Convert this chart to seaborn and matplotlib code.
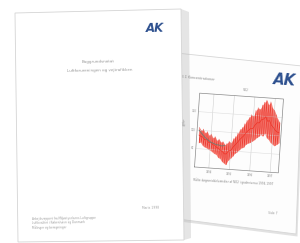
import matplotlib
matplotlib.use("Agg")
import matplotlib.pyplot as plt
import seaborn as sns
import pandas as pd
from matplotlib.patches import Polygon
from matplotlib.transforms import Affine2D

# ---------------- data ----------------
idx = list(range(40))
band_upper = [54, 50, 52, 47, 49, 44, 46, 41, 43, 38,
              40, 36, 37, 33, 35, 38, 36, 42, 45, 50,
              55, 58, 63, 68, 72, 76, 74, 82, 86, 84,
              90, 94, 97, 91, 95, 87, 84, 78, 72, 68]
band_lower = [33, 34, 30, 28, 27, 25, 24, 22, 20, 19,
              15, 14, 10, 8, 6, 12, 15, 18, 22, 24,
              27, 30, 31, 35, 37, 38, 40, 42, 45, 47,
              50, 48, 52, 46, 44, 40, 38, 36, 38, 40]
ref_idx = [0, 1, 2, 3, 4, 5, 6, 7, 8, 9, 10, 11, 12, 13]
ref_vals = [50, 47, 44, 41, 39, 37, 35, 34, 33, 32, 32, 31, 31, 32]
x_tick_pos = [6, 16, 26, 36]
x_tick_labels = ["1994", "1995", "1996", "1997"]
y_tick_pos = [25, 50, 75]
y_tick_labels = ["50", "100", "150"]
front_title = ["Baggrundsnotat", "Luftforureningen og vejtrafikken"]
front_date = "Marts 1998"
front_footer = ["Arbejdsrapport fra Miljøstyrelsens Luftgruppe",
                "Luftkvalitet i København og Danmark",
                "Målinger og beregninger"]
logo = "AK"
back_heading = "Figur 3.1 Koncentrationer"
back_caption = "Målte døgnmiddelværdier af NO2 i gadeniveau 1994-1997"
back_page_no = "Side 7"
chart_title = "NO2"

# ---------------- style ----------------
sns.set_theme(style="white")
plt.rcParams['font.family'] = ['DejaVu Sans']

W, H = 300, 243
fig = plt.figure(figsize=(3.0, 2.43), dpi=100)
fig.patch.set_facecolor('white')
bg = fig.add_axes([0, 0, 1, 1])
bg.set_xlim(0, W)
bg.set_ylim(H, 0)
bg.axis('off')

# back page
back = [(176, 53), (302, 66), (296, 234), (178, 219)]
bg.add_patch(Polygon([(x + 1.5, y + 2.5) for x, y in back], closed=True,
                     fc='#cfcfcf', ec='none', alpha=0.6, zorder=1))
bg.add_patch(Polygon(back, closed=True, fc='#fdfdfd', ec='#d6d6d6', lw=0.6, zorder=2))
# shadow of front page on back page
bg.add_patch(Polygon([(181, 9), (189, 12), (191, 238), (184, 240)], closed=True,
                     fc='#b5b5b5', ec='none', alpha=0.35, zorder=3))
# front page
front = [(15, 13), (181, 9), (184, 240), (18, 242)]
bg.add_patch(Polygon(front, closed=True, fc='white', ec='#d4d4d4', lw=0.6, zorder=4))

# front page texts
bg.text(155, 28, logo, fontsize=8.5, fontweight='bold', fontstyle='italic',
        color='#2c4f8e', ha='center', va='center', rotation=1, zorder=5)
bg.text(98, 62, front_title[0], fontsize=2.9, color='#999999',
        ha='center', va='center', rotation=1, zorder=5)
bg.text(100, 70, front_title[1], fontsize=2.9, color='#999999',
        ha='center', va='center', rotation=1, zorder=5)
bg.text(151, 208, front_date, fontsize=2.2, color='#a5a5a5',
        ha='center', va='center', rotation=1, zorder=5)
for k, line in enumerate(front_footer):
    bg.text(32, 218.5 + k * 4.3, line, fontsize=2.1, color='#a0a0a0',
            ha='left', va='center', rotation=1, zorder=5)

# back page texts
bg.text(285, 80, logo, fontsize=10.5, fontweight='bold', fontstyle='italic',
        color='#2c4f8e', ha='center', va='center', rotation=-4, zorder=3)
bg.text(172, 78, back_heading, fontsize=2.4, color='#8a8a8a',
        ha='left', va='center', rotation=-5, zorder=3)
bg.text(233, 182, back_caption, fontsize=2.0, color='#8a8a8a',
        ha='center', va='center', rotation=-3, zorder=3)
bg.text(273, 213, back_page_no, fontsize=2.2, color='#9a9a9a',
        ha='center', va='center', rotation=-3, zorder=3)

# ---------------- chart on back page ----------------
ax = fig.add_axes([197 / W, (H - 170) / H, (281 - 197) / W, (170 - 96) / H])
ax.set_facecolor('none')

for p in x_tick_pos:
    ax.axvline(p, color='#d0d0d0', lw=0.4)
for p in y_tick_pos:
    ax.axhline(p, color='#dedede', lw=0.4)

band = pd.DataFrame({'t': idx + idx, 'v': band_upper + band_lower})
sns.lineplot(data=band, x='t', y='v', errorbar=('pi', 100), estimator='mean',
             color='#f2301f', lw=0.4, err_kws={'alpha': 0.6, 'lw': 0}, ax=ax)

zig_x, zig_y = [], []
for i in idx:
    zig_x += [i, i + 0.5]
    zig_y += [band_upper[i], band_lower[i]]
sns.lineplot(x=zig_x, y=zig_y, color='#e8241c', lw=0.35, alpha=0.8,
             errorbar=None, ax=ax)

sns.lineplot(x=ref_idx, y=ref_vals, color='#6f7d74', lw=0.6, errorbar=None, ax=ax)

ax.set_xlim(-1, 40)
ax.set_ylim(0, 100)
ax.plot([0, 1, 1, 0, 0], [0, 0, 1, 1, 0], transform=ax.transAxes,
        color='#8a8a8a', lw=0.5)

for p, lbl in zip(x_tick_pos, x_tick_labels):
    ax.text(p, -3, lbl, fontsize=1.8, color='#8a8a8a', ha='center', va='top')
for p, lbl in zip(y_tick_pos, y_tick_labels):
    ax.text(-2, p, lbl, fontsize=1.8, color='#8a8a8a', ha='right', va='center')
ax.text(0.55, 1.06, chart_title, transform=ax.transAxes, fontsize=2.0,
        color='#8a8a8a', ha='center', va='bottom')
ax.text(-0.16, 0.6, "µg/m³", transform=ax.transAxes, fontsize=2.0,
        color='#8a8a8a', ha='center', va='center', rotation=86)

ax.set_xlabel('')
ax.set_ylabel('')
ax.set_axis_off()
if ax.get_legend() is not None:
    ax.get_legend().remove()

rot = Affine2D().rotate_deg_around(239, H - 133, -4)
for art in list(ax.lines) + list(ax.collections) + list(ax.texts):
    art.set_transform(art.get_transform() + rot)
    art.set_clip_on(False)
for t in ax.texts:
    t.set_rotation(t.get_rotation() - 4)

fig.savefig("out.png", dpi=100, facecolor='white')
